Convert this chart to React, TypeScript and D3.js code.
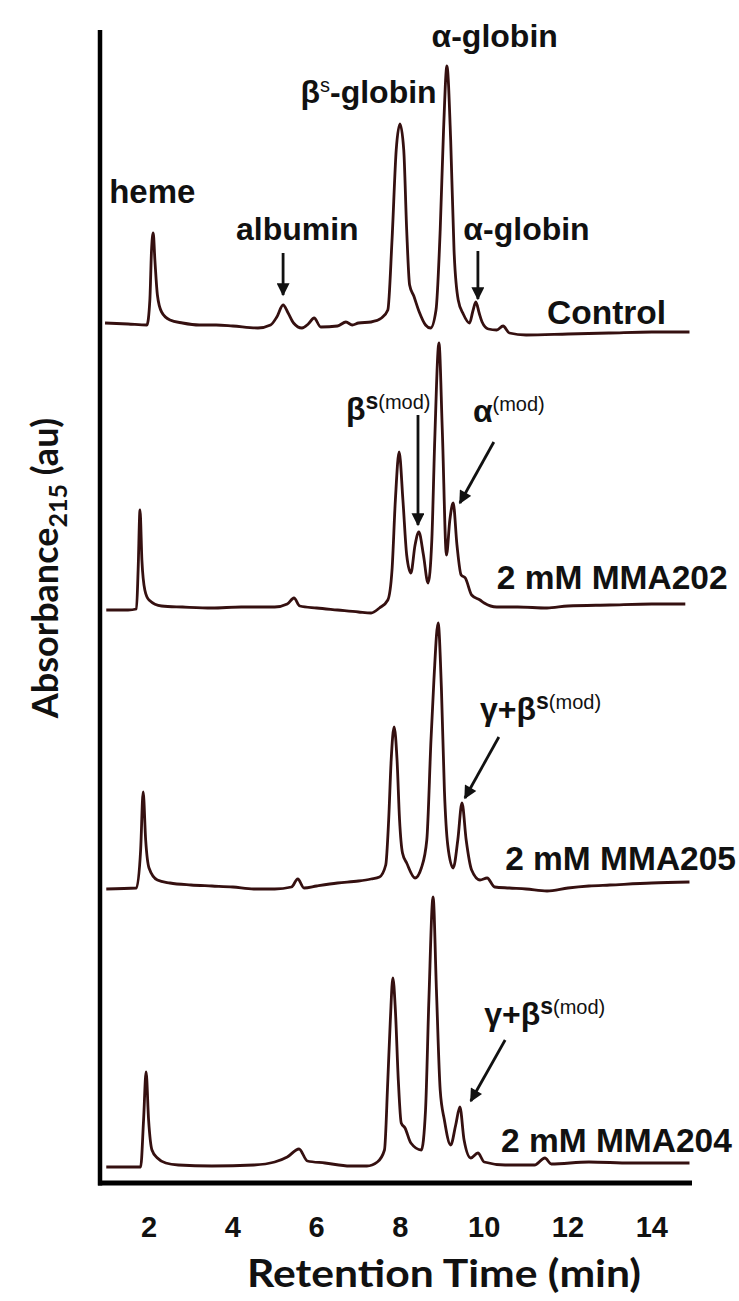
import * as d3 from 'd3'

// retention time ticks (min)
const TIME_TICKS = [2, 4, 6, 8, 10, 12, 14]
const TRACE_NAMES = ['Control', '2 mM MMA202', '2 mM MMA205', '2 mM MMA204']
// vertical stacking offset of each trace (au)
const TRACE_OFFSETS = [850, 578, 298, 20]

// [time (min), absorbance (au, relative to trace offset)]
const CONTROL: [number, number][] = [
  [0.95, 10], [1.5, 9], [1.95, 8], [2.02, 33], [2.06, 83], [2.1, 100], [2.14, 73], [2.2, 38], [2.3, 21],
  [2.5, 13], [2.8, 10], [3.2, 8], [3.6, 8], [4.0, 7], [4.6, 5], [4.9, 8], [5.05, 16], [5.2, 28], [5.32, 20],
  [5.45, 10], [5.65, 5], [5.8, 9], [5.94, 15], [6.1, 6], [6.5, 7], [6.7, 11], [6.85, 8], [7.0, 10], [7.3, 11],
  [7.55, 15], [7.7, 23], [7.8, 93], [7.9, 183], [7.99, 209], [8.08, 183], [8.15, 103], [8.22, 48], [8.32, 37],
  [8.45, 21], [8.6, 8], [8.72, 5], [8.85, 23], [8.95, 103], [9.03, 203], [9.11, 267], [9.2, 193], [9.28, 83],
  [9.38, 33], [9.5, 19], [9.65, 10], [9.73, 22], [9.8, 31], [9.88, 20], [9.95, 11], [10.1, 4], [10.3, 3],
  [10.45, 7], [10.6, 0], [11.0, -2], [12.0, -1], [13.0, 0], [14.0, 1], [14.9, 1],
]
const MMA202: [number, number][] = [
  [0.98, -5], [1.5, -5], [1.7, -4], [1.74, 35], [1.785, 95], [1.83, 45], [1.9, 15], [2.0, 5], [2.3, -1],
  [2.8, -2], [3.5, -3], [4.2, -2], [5.0, -2], [5.3, 1], [5.46, 7], [5.6, -1], [6.0, -3], [6.5, -5], [7.0, -7],
  [7.3, -8], [7.5, -3], [7.7, 5], [7.8, 35], [7.88, 105], [7.97, 153], [8.06, 105], [8.15, 50], [8.25, 32],
  [8.35, 60], [8.44, 73], [8.55, 50], [8.66, 22], [8.75, 65], [8.82, 165], [8.92, 262], [9.0, 175], [9.1, 50],
  [9.18, 85], [9.26, 102], [9.35, 60], [9.45, 30], [9.55, 27], [9.7, 10], [9.9, 5], [10.0, 2], [10.3, -2],
  [10.8, -2], [11.5, -3], [12.0, -1], [13.0, 0], [14.0, 1], [14.8, 1],
]
const MMA205: [number, number][] = [
  [0.98, -4], [1.7, -3], [1.8, 35], [1.86, 93], [1.92, 45], [2.0, 17], [2.2, 5], [2.5, 2], [3.0, 0], [3.5, -1],
  [4.0, -2], [4.5, -4], [5.0, -4], [5.4, -2], [5.55, 6], [5.7, -3], [6.0, -1], [6.5, 2], [7.0, 4], [7.3, 6],
  [7.5, 8], [7.65, 20], [7.72, 65], [7.78, 125], [7.85, 158], [7.92, 125], [7.98, 65], [8.05, 32], [8.15, 22],
  [8.35, 7], [8.5, 17], [8.63, 45], [8.73, 145], [8.8, 205], [8.9, 262], [8.98, 195], [9.05, 95], [9.13, 40],
  [9.26, 17], [9.37, 45], [9.47, 82], [9.57, 45], [9.7, 15], [9.9, 5], [10.07, 7], [10.25, -2], [10.6, -3],
  [11.0, -4], [11.5, -6], [12.0, -3], [12.5, -1], [13.0, 0], [14.0, 2], [14.9, 3],
]
const MMA204: [number, number][] = [
  [0.98, -4], [1.8, -4], [1.87, 43], [1.93, 91], [1.99, 43], [2.07, 13], [2.2, 5], [2.4, 0], [2.7, -2],
  [3.5, -3], [4.5, -2], [5.0, 1], [5.3, 6], [5.58, 14], [5.78, 2], [6.2, 0], [6.8, -3], [7.2, -3], [7.45, 1],
  [7.62, 13], [7.7, 83], [7.76, 143], [7.82, 185], [7.88, 153], [7.95, 83], [8.02, 40], [8.11, 35], [8.25, 20],
  [8.5, 13], [8.6, 53], [8.68, 163], [8.78, 266], [8.86, 173], [8.95, 73], [9.05, 43], [9.2, 18], [9.32, 38],
  [9.42, 56], [9.52, 23], [9.68, 5], [9.85, 10], [10.0, 1], [10.5, -2], [11.2, -2], [11.45, 5], [11.6, -1],
  [12.5, 1], [13.5, 0], [14.9, 0],
]
const TRACES = [CONTROL, MMA202, MMA205, MMA204]

const W = 739
const H = 1301
const FONT = '"Liberation Sans", Arial, sans-serif'
const FONT2 = 'Lato, "Open Sans", sans-serif'
const INK = '#351010'

export default function App() {
  const x = d3.scaleLinear().domain([0.83, 14.96]).range([100, 692])
  const y = d3.scaleLinear().domain([0, 1150]).range([1183, 33])

  const line = (off: number) =>
    d3.line<[number, number]>()
      .x(d => x(d[0]))
      .y(d => y(d[1] + off))
      .curve(d3.curveMonotoneX)

  const label = { fontFamily: FONT, fontWeight: 700, fontSize: 32, fill: '#111' }
  const arrow = (t1: number, a1: number, t2: number, a2: number) => (
    <line x1={x(t1)} y1={y(a1)} x2={x(t2)} y2={y(a2)} stroke="#111" strokeWidth={2.8} markerEnd="url(#ah)" />
  )
  const sup = (s: string, bold: boolean) => (
    <tspan dy={-11} fontSize={bold ? 23 : 20} fontWeight={bold ? 700 : 400}>{s}</tspan>
  )

  return (
    <svg width={W} height={H} style={{ position: 'absolute', left: 0, top: 0, background: '#fff' }}>
      <defs>
        <marker id="ah" viewBox="0 0 10 10" refX={9} refY={5} markerWidth={14} markerHeight={13}
          markerUnits="userSpaceOnUse" orient="auto">
          <path d="M0,0 L10,5 L0,10 z" fill="#111" />
        </marker>
      </defs>

      {TRACES.map((tr, i) => (
        <path key={i} d={line(TRACE_OFFSETS[i])(tr) ?? ''} fill="none" stroke={INK}
          strokeWidth={2.8} strokeLinejoin="round" />
      ))}

      {/* axes */}
      <line x1={x.range()[0]} x2={x.range()[0]} y1={30} y2={y(0) + 2.5} stroke="#000" strokeWidth={4.5} />
      <line x1={x.range()[0] - 2} x2={x.range()[1]} y1={y(0)} y2={y(0)} stroke="#000" strokeWidth={5} />
      {TIME_TICKS.map(t => (
        <text key={t} x={x(t)} y={1237} textAnchor="middle" style={{ ...label, fontSize: 29 }}>{t}</text>
      ))}
      <text x={x(9.04)} y={1287} textAnchor="middle" textLength={394} lengthAdjust="spacingAndGlyphs"
        style={{ fontFamily: FONT2, fontWeight: 700, fontSize: 38, fill: '#111' }}>
        Retention Time (min)
      </text>
      <text transform={`translate(58,568) rotate(-90)`} textAnchor="middle"
        style={{ fontFamily: FONT2, fontWeight: 700, fontSize: 36, fill: '#111' }}>
        Absorbance<tspan dy={9} fontSize={25}>215</tspan><tspan dy={-9}> (au)</tspan>
      </text>

      {/* peak annotations */}
      <text x={x(1.05)} y={y(980)} style={{ ...label, fontSize: 33 }}>heme</text>
      <text x={x(5.54)} y={y(943)} textAnchor="middle" style={label}>albumin</text>
      {arrow(5.2, 930, 5.2, 888)}
      <text x={x(7.24)} y={y(1080)} textAnchor="middle" style={label}>β{sup('s', false)}<tspan dy={11}>-globin</tspan></text>
      <text x={x(10.25)} y={y(1136)} textAnchor="middle" style={label}>α-globin</text>
      <text x={x(11.01)} y={y(943)} textAnchor="middle" style={label}>α-globin</text>
      {arrow(9.85, 932, 9.85, 884)}

      <text x={x(6.7)} y={y(763)} style={label}>β{sup('s', true)}<tspan fontSize={20} fontWeight={400}>(mod)</tspan></text>
      {arrow(8.42, 768, 8.42, 658)}
      <text x={x(9.73)} y={y(761)} style={label}>α{sup('(mod)', false)}</text>
      {arrow(10.23, 741, 9.42, 680)}

      <text x={x(9.9)} y={y(463)} style={label}>γ+β{sup('s', true)}<tspan fontSize={20} fontWeight={400}>(mod)</tspan></text>
      {arrow(10.35, 446, 9.54, 385)}

      <text x={x(10.0)} y={y(158)} style={label}>γ+β{sup('s', true)}<tspan fontSize={20} fontWeight={400}>(mod)</tspan></text>
      {arrow(10.5, 143, 9.68, 82)}

      {/* trace names */}
      {[[11.5, 859], [10.3, 594], [10.5, 313], [10.4, 31]].map(([t, a], i) => (
        <text key={i} x={x(t)} y={y(a)} style={{ ...label, fontSize: 33.5 }}>{TRACE_NAMES[i]}</text>
      ))}
    </svg>
  )
}
